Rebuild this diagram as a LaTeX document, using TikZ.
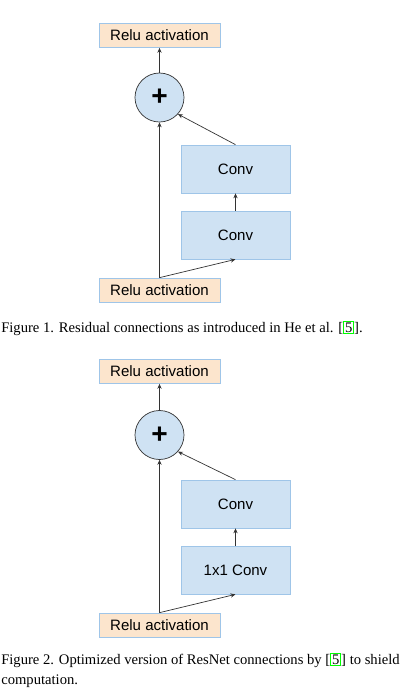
\documentclass[tikz,border=0pt]{standalone}
\usepackage{fontspec}
\setmainfont{Liberation Serif}
\setsansfont{Liberation Sans}
\usetikzlibrary{arrows.meta}

\definecolor{convfill}{HTML}{CFE2F3}
\definecolor{convline}{HTML}{9FC5E8}
\definecolor{relufill}{HTML}{FCE5CD}
\definecolor{edgegray}{HTML}{333333}
\definecolor{citegreen}{HTML}{00FF00}

\newcommand{\citebox}[1]{{\setlength{\fboxsep}{0.5pt}\setlength{\fboxrule}{0.8pt}\fcolorbox{citegreen}{white}{#1}}}

\tikzset{
	relubox/.style={draw=convline, fill=relufill, line width=0.5pt, minimum width=3.025cm, minimum height=0.6cm, inner sep=0pt, font=\sffamily\fontsize{10.7}{12}\selectfont},
	convbox/.style={draw=convline, fill=convfill, line width=0.5pt, minimum width=2.725cm, minimum height=1.2cm, inner sep=0pt, font=\sffamily\fontsize{10.7}{12}\selectfont},
	plusnode/.style={circle, draw=edgegray, fill=convfill, line width=0.5pt, minimum size=1.225cm, inner sep=0pt, font=\sffamily\bfseries\fontsize{20}{20}\selectfont},
	flow/.style={draw=edgegray, line width=0.5pt, -{Stealth[length=3.5pt,width=3pt]}},
	caption/.style={anchor=west, inner sep=0pt, align=left, font=\fontsize{10.4}{14.2}\selectfont}
}

\begin{document}
\begin{tikzpicture}[x=0.025cm, y=-0.025cm]
		\useasboundingbox (0,0) rectangle (400,693);

		% Figure 1
		\node[relubox] (reluA) at (159.5,35.5) {Relu activation};
		\node[plusnode] (plusA) at (159.5,97.5) {+};
		\node[convbox] (convA2) at (235.5,169) {Conv};
		\node[convbox] (convA1) at (235.5,235) {Conv};
		\node[relubox] (reluA0) at (159.5,290) {Relu activation};

		\draw[flow] (reluA0.north) -- (plusA.south);
		\draw[flow] (reluA0.north) -- (convA1.south);
		\draw[flow] (convA1.north) -- (convA2.south);
		\draw[flow] (convA2.north) -- (plusA.-42);
		\draw[flow] (plusA.north) -- (reluA.south);

		\node[caption] (capA) at (1,328) {Figure 1. Residual connections as introduced in He et al. [\citebox{5}].};

		% Figure 2
		\node[relubox] (reluB) at (159.5,371.5) {Relu activation};
		\node[plusnode] (plusB) at (159.5,435) {+};
		\node[convbox] (convB2) at (235.5,504) {Conv};
		\node[convbox] (convB1) at (235.5,570) {1x1 Conv};
		\node[relubox] (reluB0) at (159.5,625) {Relu activation};

		\draw[flow] (reluB0.north) -- (plusB.south);
		\draw[flow] (reluB0.north) -- (convB1.south);
		\draw[flow] (convB1.north) -- (convB2.south);
		\draw[flow] (convB2.north) -- (plusB.-42);
		\draw[flow] (plusB.north) -- (reluB.south);

		\node[caption] (capB) at (1,670) {Figure 2. Optimized version of ResNet connections by [\citebox{5}] to shield\\computation.};
\end{tikzpicture}
\end{document}
